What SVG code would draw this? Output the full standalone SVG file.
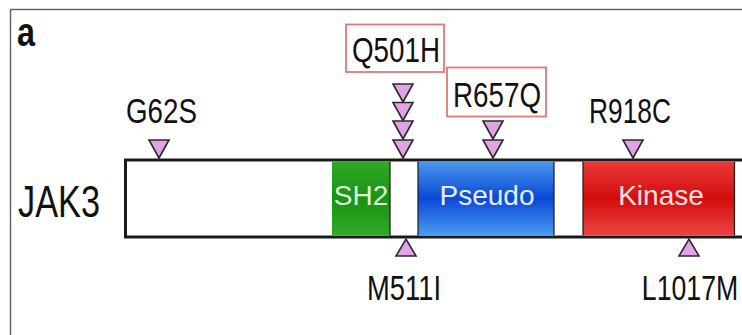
<svg xmlns="http://www.w3.org/2000/svg" width="742" height="335" viewBox="0 0 742 335">
  <style>
    .lbl { font-family: "Liberation Sans", Arial, sans-serif; fill: #111; text-anchor: middle; }
    .mut { font-size: 35px; }
    .dom { font-family: "Liberation Sans", Arial, sans-serif; font-size: 28px; text-anchor: middle; }
    .tri { fill: #e2a2e6; stroke: #2a2a2a; stroke-width: 1.6; stroke-linejoin: miter; }
    .hl { fill: #fff; stroke: #e07878; stroke-width: 1.8; }
    .sep { stroke: #1a1a1a; stroke-width: 1.2; }
  </style>
  <defs>
    <linearGradient id="gBlue" x1="0" y1="0" x2="0" y2="1">
      <stop offset="0" stop-color="#4a98ec"/>
      <stop offset="0.5" stop-color="#0a48d6"/>
      <stop offset="1" stop-color="#4a9cf0"/>
    </linearGradient>
    <linearGradient id="gRed" x1="0" y1="0" x2="0" y2="1">
      <stop offset="0" stop-color="#ea3a3a"/>
      <stop offset="0.5" stop-color="#d40c0c"/>
      <stop offset="1" stop-color="#ea4444"/>
    </linearGradient>
    <linearGradient id="gGreen" x1="0" y1="0" x2="0" y2="1">
      <stop offset="0" stop-color="#30a828"/>
      <stop offset="0.5" stop-color="#1a9212"/>
      <stop offset="1" stop-color="#30aa28"/>
    </linearGradient>
    <path id="down" class="tri" d="M-10,0 L10,0 L0,18 Z"/>
    <path id="up" class="tri" d="M-10,17 L10,17 L0,0 Z"/>
  </defs>

  <rect width="742" height="335" fill="#fff"/>
  <!-- panel frame -->
  <path d="M10.5,335 V9.5 H742" fill="none" stroke="#666" stroke-width="1.5"/>
  <text x="26" y="46" class="lbl" font-size="40" font-weight="bold" textLength="18" lengthAdjust="spacingAndGlyphs">a</text>

  <!-- protein name -->
  <text x="59" y="217" class="lbl" font-size="44" textLength="82" lengthAdjust="spacingAndGlyphs">JAK3</text>

  <!-- protein bar with domains -->
  <g id="bar">
    <rect x="125.5" y="160" width="640" height="77" fill="#fff" stroke="#1a1a1a" stroke-width="3"/>
  </g>
  <g id="sh2">
    <rect x="332" y="161.5" width="58" height="74" fill="url(#gGreen)"/>
    <line class="sep" x1="390" y1="161.5" x2="390" y2="235.5"/>
    <text x="361" y="205" class="dom" fill="#dcf5d4">SH2</text>
  </g>
  <g id="pseudo">
    <rect x="418" y="161.5" width="136" height="74" fill="url(#gBlue)"/>
    <line class="sep" x1="418" y1="161.5" x2="418" y2="235.5"/>
    <line class="sep" x1="554" y1="161.5" x2="554" y2="235.5"/>
    <text x="487" y="205" class="dom" fill="#e4eeff">Pseudo</text>
  </g>
  <g id="kinase">
    <rect x="583" y="161.5" width="151" height="74" fill="url(#gRed)"/>
    <line class="sep" x1="583" y1="161.5" x2="583" y2="235.5"/>
    <line class="sep" x1="734.5" y1="161.5" x2="734.5" y2="235.5" stroke-width="2"/>
    <text x="661" y="205" class="dom" fill="#ffe2e2">Kinase</text>
  </g>

  <!-- mutation markers -->
  <g id="markers">
    <use href="#down" x="159" y="140"/>
    <use href="#down" x="403" y="84"/>
    <use href="#down" x="403" y="102.5"/>
    <use href="#down" x="403" y="121"/>
    <use href="#down" x="403" y="140"/>
    <use href="#down" x="493" y="121"/>
    <use href="#down" x="493" y="140"/>
    <use href="#down" x="633" y="140"/>
    <use href="#up" x="406" y="239"/>
    <use href="#up" x="689" y="239"/>
  </g>

  <!-- mutation labels -->
  <g id="labels">
    <text x="161.5" y="123" class="lbl mut" textLength="71" lengthAdjust="spacingAndGlyphs">G62S</text>
    <rect class="hl" x="346" y="24.5" width="98" height="47.5"/>
    <text x="396" y="62" class="lbl mut" textLength="88" lengthAdjust="spacingAndGlyphs">Q501H</text>
    <rect class="hl" x="447" y="67.5" width="99" height="49"/>
    <text x="497" y="107" class="lbl mut" textLength="88" lengthAdjust="spacingAndGlyphs">R657Q</text>
    <text x="630" y="123" class="lbl mut" textLength="82" lengthAdjust="spacingAndGlyphs">R918C</text>
    <text x="404" y="300" class="lbl mut" textLength="74" lengthAdjust="spacingAndGlyphs">M511I</text>
    <text x="0" y="0" class="lbl mut" transform="translate(690 300) scale(0.762 1)">L1017M</text>
  </g>
</svg>
